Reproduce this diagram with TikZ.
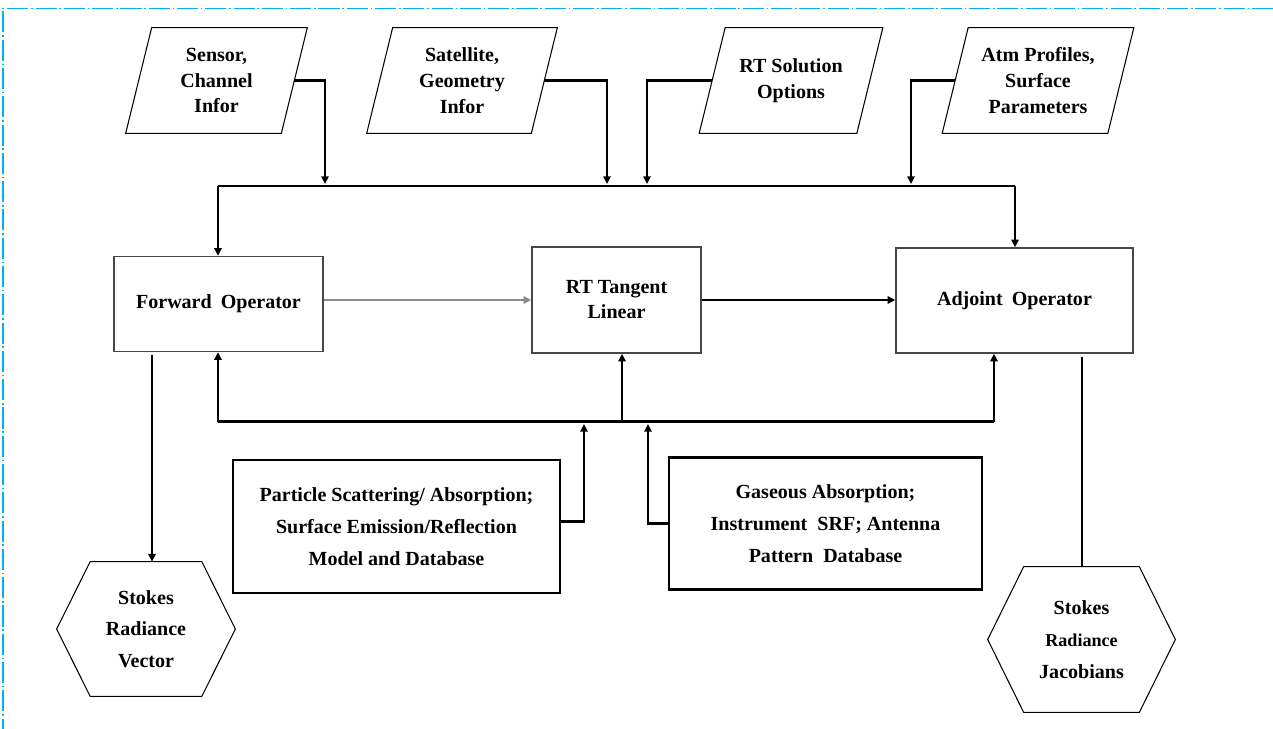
\documentclass[tikz,border=0pt]{standalone}
\usepackage{fontspec}
\setmainfont{Liberation Serif}
\usetikzlibrary{arrows.meta}
\definecolor{framecyan}{RGB}{0,176,240}
\begin{document}
\begin{tikzpicture}[x=0.02cm,y=-0.02cm,
  font=\bfseries\fontsize{11.4}{14.7}\selectfont,
  para/.style={inner sep=0pt, minimum height=2.1cm, align=center},
  outline/.style={draw=black, line width=0.6pt},
  opbox/.style={draw=black!72, line width=0.8pt, inner sep=0pt, align=center},
  dbbox/.style={draw=black, line width=1.3pt, inner sep=0pt, align=center,
    font=\bfseries\fontsize{11.4}{18.1}\selectfont},
  hexlabel/.style={inner sep=0pt, align=center,
    font=\bfseries\fontsize{11.4}{18.1}\selectfont},
  link/.style={line width=1.15pt},
  arr/.style={link, -{Triangle[length=4.4pt,width=4.2pt]}},
  frameline/.style={draw=framecyan, line width=1.1pt,
    dash pattern=on 12pt off 1.6pt on 0.9pt off 1.6pt}
]
\useasboundingbox (0,0) rectangle (1273,729);

% outer frame
\draw[frameline] (1273,8.5) -- (3,8.5) -- (3,729);

% input parallelograms
\node[para, minimum width=3.1cm]  (sen) at (216.5,80.5) {Sensor,\\Channel\\Infor};
\node[para, minimum width=3.28cm] (sat) at (462,80.5)   {Satellite,\\Geometry\\Infor};
\node[para, minimum width=3.14cm] (rts) at (791,80.5)   {RT Solution\\Options};
\node[para, minimum width=3.3cm]  (atm) at (1038,80.5)  {Atm Profiles,\\Surface\\Parameters};
\foreach \n in {sen,sat,rts,atm}
  \draw[outline] ([xshift=0.26cm]\n.north west) -- ([xshift=0.26cm]\n.north east)
    -- ([xshift=-0.26cm]\n.south east) -- ([xshift=-0.26cm]\n.south west) -- cycle;

% operators
\node[opbox, minimum width=4.18cm, minimum height=1.9cm]  (fwd) at (218.5,304) {Forward\hspace{0.45em}Operator};
\node[opbox, minimum width=3.38cm, minimum height=2.12cm, font=\bfseries\fontsize{11.4}{14.2}\selectfont]
  (tl) at (616.5,300) {RT Tangent\\Linear};
\node[opbox, minimum width=4.74cm, minimum height=2.1cm]  (adj) at (1014.5,300.5) {Adjoint\hspace{0.45em}Operator};

% databases
\node[dbbox, minimum width=6.54cm, minimum height=2.66cm] (psd) at (396.5,526.5)
  {Particle Scattering/ Absorption;\\Surface Emission/Reflection\\Model and Database};
\node[dbbox, minimum width=6.26cm, minimum height=2.64cm] (gad) at (825.5,523.5)
  {Gaseous Absorption;\\Instrument\hspace{0.5em}SRF; Antenna\\Pattern\hspace{0.5em}Database};

% outputs (hexagons)
\node[hexlabel, minimum width=3.56cm, minimum height=2.68cm] (svec) at (146,629)
  {Stokes\\Radiance\\Vector};
\node[hexlabel, minimum width=3.74cm, minimum height=2.9cm] (sjac) at (1081.5,639.5)
  {Stokes\\{\fontsize{10.3}{18.1}\selectfont Radiance}\\Jacobians};
\draw[outline] (svec.west) -- ([xshift=0.67cm]svec.north west) -- ([xshift=-0.67cm]svec.north east)
  -- (svec.east) -- ([xshift=-0.67cm]svec.south east) -- ([xshift=0.67cm]svec.south west) -- cycle;
\draw[outline] (sjac.west) -- ([xshift=0.72cm]sjac.north west) -- ([xshift=-0.72cm]sjac.north east)
  -- (sjac.east) -- ([xshift=-0.72cm]sjac.south east) -- ([xshift=0.72cm]sjac.south west) -- cycle;

% input feeds onto the upper bus
\coordinate (j1) at (325,184);
\coordinate (j2) at (607,184);
\coordinate (j3) at (647,184);
\coordinate (j4) at (911,184);
\draw[arr] (sen.east) -| (j1);
\draw[arr] (sat.east) -| (j2);
\draw[arr] (rts.west) -| (j3);
\draw[arr] (atm.west) -| (j4);

% upper bus
\coordinate (tbl) at (218,186);
\coordinate (tbr) at (1015,186);
\draw[link] (tbl) -- (tbr);
\draw[arr] (tbl) -- (tbl |- fwd.north);
\draw[arr] (tbr) -- (tbr |- adj.north);

% operator chain
\draw[arr, color=black!45] (fwd.east |- tl.west) -- (tl.west);
\draw[arr] (tl.east) -- (tl.east -| adj.west);

% lower bus
\coordinate (bbl) at (218,421.5);
\coordinate (bbr) at (994,421.5);
\coordinate (bbm) at (622,421.5);
\draw[link] (bbl) -- (bbr);
\draw[arr] (bbl) -- (bbl |- fwd.south);
\draw[arr] (bbr) -- (bbr |- adj.south);
\draw[arr] (bbm) -- (bbm |- tl.south);

% database feeds onto the lower bus
\coordinate (pj) at (584,424);
\coordinate (gj) at (648,424);
\draw[arr] ([yshift=0.1cm]psd.east) -| (pj);
\draw[arr] (gad.west) -| (gj);

% outputs
\coordinate (fo) at (152,355);
\coordinate (ao) at (1082,357);
\draw[arr] (fo) -- (fo |- svec.north);
\draw[link] (ao) -- (ao |- sjac.north);
\end{tikzpicture}
\end{document}
